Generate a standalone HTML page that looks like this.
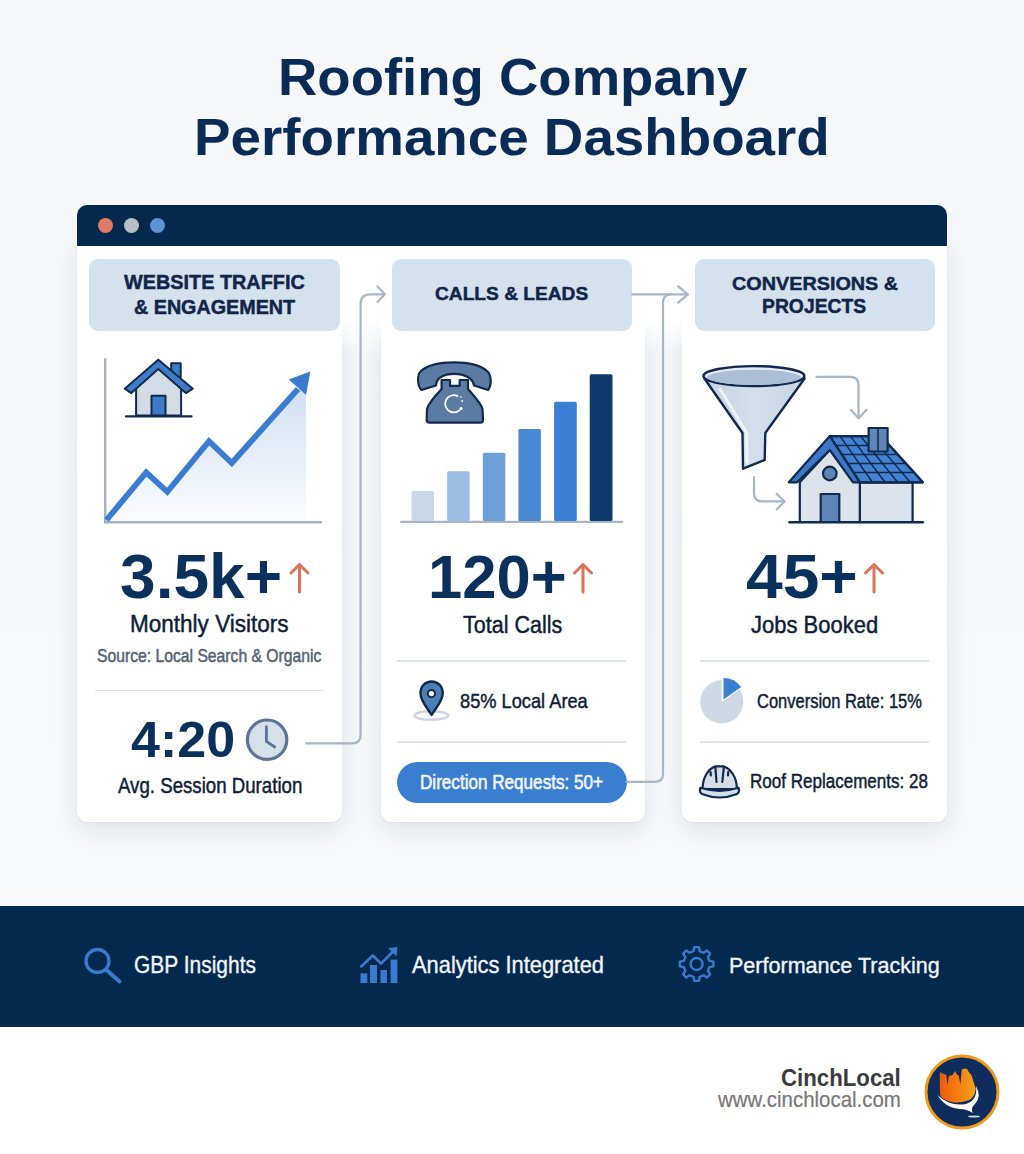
<!DOCTYPE html>
<html><head><meta charset="utf-8">
<style>
*{margin:0;padding:0;box-sizing:border-box}
html,body{width:1024px;height:1154px;overflow:hidden}
body{position:relative;background:#f5f7fa;font-family:"Liberation Sans",sans-serif}
.abs{position:absolute}
.t{position:absolute;white-space:nowrap;transform-origin:0 0}
.card{position:absolute;background:#fff;border-radius:0 0 11px 11px;box-shadow:0 8px 26px rgba(30,50,90,0.10),0 1px 3px rgba(30,50,90,0.05)}
.pill{position:absolute;background:#d4e1ee;border-radius:9px}
.div{position:absolute;height:1.5px;background:#dde3ea}
</style></head>
<body>
<!-- page bg gradient -->
<div class="abs" style="left:0;top:0;width:1024px;height:906px;background:linear-gradient(#f5f7f9,#f6f8fa)"></div>
<!-- band -->
<div class="abs" style="left:0;top:906px;width:1024px;height:121px;background:#04294e"></div>
<div class="abs" style="left:0;top:1027px;width:1024px;height:127px;background:#ffffff"></div>

<!-- cards -->
<div class="card" style="left:77px;top:240px;width:265px;height:582px"></div>
<div class="card" style="left:380.5px;top:240px;width:264px;height:582px"></div>
<div class="card" style="left:682px;top:240px;width:264.8px;height:582px"></div>
<!-- white header strip -->
<div class="abs" style="left:77px;top:240px;width:869.8px;height:80px;background:#fff"></div>
<div class="abs" style="left:342px;top:320px;width:38.5px;height:34px;background:linear-gradient(#fff,rgba(255,255,255,0.5) 50%,rgba(255,255,255,0))"></div>
<div class="abs" style="left:644.5px;top:320px;width:37.5px;height:34px;background:linear-gradient(#fff,rgba(255,255,255,0.5) 50%,rgba(255,255,255,0))"></div>
<!-- nav bar -->
<div class="abs" style="left:77px;top:205px;width:869.8px;height:41px;background:#04294e;border-radius:10px 10px 0 0"></div>
<div class="abs" style="left:98px;top:218px;width:15px;height:15px;border-radius:50%;background:#e07a62"></div>
<div class="abs" style="left:123.5px;top:218px;width:15px;height:15px;border-radius:50%;background:#b9bec6"></div>
<div class="abs" style="left:149.5px;top:218px;width:15px;height:15px;border-radius:50%;background:#5b93d4"></div>

<!-- pills -->
<div class="pill" style="left:89px;top:259px;width:251px;height:72px"></div>
<div class="pill" style="left:392px;top:259px;width:240px;height:72px"></div>
<div class="pill" style="left:695px;top:259px;width:240px;height:72px"></div>

<!-- dividers -->
<div class="div" style="left:95px;top:689.5px;width:229px"></div>
<div class="div" style="left:397px;top:660px;width:229px"></div>
<div class="div" style="left:397px;top:741px;width:229px"></div>
<div class="div" style="left:700px;top:660px;width:229px"></div>
<div class="div" style="left:700px;top:741px;width:229px"></div>

<!-- button -->
<div class="abs" style="left:397px;top:761.5px;width:229.5px;height:41.5px;border-radius:21px;background:#3a7fcf"></div>

<svg class="abs" style="left:0;top:0" width="1024" height="1154" viewBox="0 0 1024 1154">
<defs>
 <linearGradient id="area" x1="0" y1="0" x2="0" y2="1"><stop offset="0" stop-color="#d0def0"/><stop offset="1" stop-color="#fbfcfe"/></linearGradient>
 <linearGradient id="logoG" x1="0" y1="0" x2="1" y2="0"><stop offset="0" stop-color="#f05a0a"/><stop offset="1" stop-color="#f7a21b"/></linearGradient>
</defs>
<g fill="none" stroke="#a8b5c5" stroke-width="2.2" stroke-linecap="round" stroke-linejoin="round">
 <!-- connector 1: from clock to card2 header -->
 <path d="M306 743.4 H352 Q360.6 743.4 360.6 735 V304 Q360.6 294.3 370 294.3 H384"/>
 <path d="M377.5 286.5 L385 294.3 L377.5 302"/>
 <!-- connector 2 -->
 <path d="M632 294.3 H687"/>
 <path d="M626.5 781.8 H655 Q663 781.8 663 774 V303 Q663 294.3 671 294.3"/>
 <path d="M678.2 286.3 L687.9 294.3 L678.2 302.6"/>
 <!-- card3 arrows -->
 <path d="M816.5 376.9 H850 Q858.5 376.9 858.5 385 V417"/>
 <path d="M851 409.8 L858.5 418.4 L866.5 409.8"/>
 <path d="M754 477 V493 Q754 501.4 762 501.4 H783.5"/>
 <path d="M776.7 494 L784.5 501.4 L776.7 509.5"/>
</g>

<!-- card1 chart -->
<path d="M106 520.5 L146.2 472.4 L167.3 491.9 L209 441.2 L231.8 463 L300.9 385.7 L306 381 L306 521 L106 521 Z" fill="url(#area)"/>
<g stroke="#a3b1c2" stroke-width="2.4" fill="none">
 <path d="M105.2 358.3 V522.3 H322"/>
</g>
<polyline points="106.5,520 146.2,472.4 167.3,491.9 209,441.2 231.8,463 298,389" fill="none" stroke="#3a7dd0" stroke-width="5.8" stroke-linejoin="miter"/>
<polygon points="288.7,379.4 310.3,371.6 306.1,395.1" fill="#3a7bd0"/>

<!-- card1 house -->
<g stroke="#0f2a4e" stroke-width="2" stroke-linejoin="round">
 <rect x="171.2" y="363.2" width="9.5" height="14" fill="#3f7cc8"/>
 <polygon points="136.1,415.5 136.1,388 158.3,367 181.1,388 181.1,415.5" fill="#d3dbe5"/>
 <polygon points="124.7,388.7 158.3,359.8 192.8,388.7 185.8,393.1 158.3,368.9 131.3,393.1" fill="#3f7cc8"/>
 <rect x="151.5" y="395.7" width="14" height="19.8" fill="#3f7cc8"/>
</g>
<path d="M126 416.4 H191.5" stroke="#0f2a4e" stroke-width="2.2" stroke-linecap="round"/>

<!-- card1 arrow -->
<g stroke="#d9755c" stroke-width="3" fill="none" stroke-linecap="round" stroke-linejoin="round">
 <path d="M299.5 592 V565 M291 573 L299.5 564.5 L308 573"/>
 <path d="M583 592 V565 M574.5 573 L583 564.5 L591.5 573"/>
 <path d="M874 592 V565 M865.5 573 L874 564.5 L882.5 573"/>
</g>
<!-- clock -->
<circle cx="267.1" cy="739.7" r="19.7" fill="#d6e0eb" stroke="#5a7595" stroke-width="3.2"/>
<path d="M266.4 726.7 V741.4 L274.7 747" fill="none" stroke="#5a7595" stroke-width="2.8" stroke-linecap="round" stroke-linejoin="round"/>

<!-- card2 bars -->
<path d="M400.3 521.9 H623.2" stroke="#aab5c3" stroke-width="2.4"/>
<g>
 <rect x="411.5" y="490.9" width="22.5" height="30" rx="1.5" fill="#c8d7ea"/>
 <rect x="447.1" y="471.3" width="22.5" height="49.6" rx="1.5" fill="#9ebde5"/>
 <rect x="482.8" y="452.8" width="22.5" height="68.1" rx="1.5" fill="#6c9ed8"/>
 <rect x="518.4" y="429.1" width="22.5" height="91.8" rx="1.5" fill="#4a88d3"/>
 <rect x="554.1" y="401.8" width="22.7" height="119.1" rx="1.5" fill="#3a80d2"/>
 <rect x="589.7" y="374.2" width="22.8" height="146.7" rx="1.5" fill="#0f3a6e"/>
</g>
<!-- phone -->
<g fill="#5b7ba2" stroke="#0f2a4e" stroke-width="2.2" stroke-linejoin="round">
 <path d="M421.5 390 C417.5 386 416.5 375 421 371 C430 363 445 362.3 454 362.3 C463 362.3 478 363 487 371 C492 375 491.5 386 488 390 L474 385.5 C473 378.5 465 373.8 454 373.8 C443 373.8 436 378.5 436 385.5 Z"/>
 <path d="M441.6 380 L450 380 L450 385.8 L459.7 385.8 L459.7 380 L468 380 L468 389 C474 396 481 403 482.5 409 L483 420 Q483 422.7 480 422.7 L429.5 422.7 Q426.7 422.7 426.7 420 L427 409 C428.5 403 435 396 441.6 389 Z"/>
</g>
<circle cx="453.8" cy="403.8" r="8.6" fill="none" stroke="#fff" stroke-width="1.8" stroke-dasharray="38 16" transform="rotate(45 453.8 403.8)"/>
<circle cx="461" cy="408.5" r="1.6" fill="#fff"/><circle cx="462.3" cy="401" r="0.9" fill="#fff"/><circle cx="461" cy="397" r="0.8" fill="#fff"/>
<!-- pin -->
<ellipse cx="431.4" cy="715.5" rx="16.8" ry="4.3" fill="none" stroke="#cdd5df" stroke-width="2.6"/>
<path d="M431.6 715 C428 709 420.5 701 420.5 693.5 C420.5 686 425.5 681.5 431.6 681.5 C437.7 681.5 442.7 686 442.7 693.5 C442.7 701 435 709 431.6 715 Z" fill="#4f7db5" stroke="#0f2a4e" stroke-width="2.4" stroke-linejoin="round"/>
<circle cx="431.4" cy="693.6" r="3.6" fill="#fff" stroke="#0f2a4e" stroke-width="2"/>

<!-- card3 funnel -->
<linearGradient id="fung" x1="0" y1="0" x2="1" y2="0"><stop offset="0" stop-color="#c3d2e4"/><stop offset="0.5" stop-color="#d3dfec"/><stop offset="1" stop-color="#c6d4e6"/></linearGradient>
<g stroke="#0f2a4e" stroke-width="2.4" stroke-linejoin="round">
 <path d="M704.4 378.5 L742.5 433 L743 468.7 L764.7 460 L765.3 433 L804.6 378.5 Z" fill="url(#fung)"/>
 <ellipse cx="753.9" cy="376.1" rx="50.5" ry="10" fill="#e3ebf4"/>
</g>
<ellipse cx="753.9" cy="377.3" rx="47" ry="7.6" fill="#aabed6"/>
<path d="M719.5 388 L746.6 433 L747.2 463.5" fill="none" stroke="#f2f6fb" stroke-width="3" opacity="0.9"/>
<!-- card3 house -->
<clipPath id="roofclip"><polygon points="829.8,436.1 881,436.1 922.8,482.3 859.8,482.3"/></clipPath>
<g stroke="#0f2a4e" stroke-width="2.2" stroke-linejoin="round">
 <rect x="859.8" y="482.3" width="52.8" height="39.7" fill="#dde3ea"/>
 <polygon points="829.8,436.1 881,436.1 922.8,482.3 859.8,482.3" fill="#4382d2"/>
</g>
<g clip-path="url(#roofclip)" stroke="#0f2a4e" stroke-width="1.5" fill="none">
 <path d="M800 445.5 H930 M800 454.5 H930 M800 463.5 H930 M800 472.5 H930"/>
 <path d="M840.0 436.1 L872.4 482.3 M850.3 436.1 L885.0 482.3 M860.5 436.1 L897.6 482.3 M870.8 436.1 L910.2 482.3"/>
</g>
<g stroke="#0f2a4e" stroke-width="2.2" stroke-linejoin="round">
 <polygon points="829.8,436.1 881,436.1 922.8,482.3 859.8,482.3" fill="none"/>
 <rect x="868.6" y="428" width="19" height="23.5" fill="#5f86b8"/>
 <path d="M878 428 V451" stroke-width="1.5"/>
 <polygon points="799.8,522 799.8,482.3 829.8,450 859.8,482.3 859.8,522" fill="#dde3ea"/>
 <polygon points="788.8,482.3 829.8,436.1 859.8,482.3 853,482.3 829.8,450 797,482.3" fill="#3d78c8"/>
 <circle cx="829.8" cy="473.5" r="6.8" fill="#5f86b8"/>
 <rect x="820.7" y="494" width="18.6" height="28" fill="#5f86b8"/>
</g>
<path d="M789.5 522.2 H922.8" stroke="#0f2a4e" stroke-width="2.4" stroke-linecap="round"/>

<!-- pie -->
<path d="M721.7 701.9 L739.4 689.5 A21.6 21.6 0 1 1 721.7 680.3 Z" fill="#cdd8e5"/>
<path d="M723.5 699.5 L723.5 677.9 A21.6 21.6 0 0 1 741.2 687.1 Z" fill="#3a7fd0"/>
<!-- hard hat -->
<g stroke="#0f2a4e" stroke-width="2.2" stroke-linejoin="round" stroke-linecap="round">
 <path d="M702.6 789 C702.6 777 708.5 768.5 715.5 766.4 L723.5 766.4 C730.5 768.5 736.9 777 736.9 789 Z" fill="#d5dde8"/>
 <path d="M700.3 787.8 Q719.5 793.8 738.6 787.8 Q740 792 737 794 Q719.5 801 702 794 Q699 792 700.3 787.8 Z" fill="#d5dde8"/>
 <path d="M715.4 767.6 L716.5 782 M723.8 767.6 L722.3 782 M710.6 772 L710.8 775.5 M728.2 772 L728 775.5" fill="none"/>
</g>
<!-- band icons -->
<g fill="none" stroke="#3a7bd0" stroke-width="3.3" stroke-linecap="round">
 <circle cx="97.5" cy="961" r="11.5"/>
 <path d="M106 969.5 L119.5 981.5" stroke-width="4"/>
</g>
<g fill="#3a7bd0">
 <rect x="360.5" y="973.3" width="6.8" height="9.7"/>
 <rect x="370" y="965" width="7" height="18"/>
 <rect x="380.5" y="970" width="6.5" height="13"/>
 <rect x="390.6" y="959.6" width="6.8" height="23.4"/>
</g>
<path d="M361.3 966.5 L372.8 955.5 L381 963.7 L394 950.5" fill="none" stroke="#3a7bd0" stroke-width="2.6" stroke-linecap="round" stroke-linejoin="round"/>
<path d="M388 948 L397.5 947 L396.5 956.5 Z" fill="#3a7bd0"/>
<!-- gear -->
<g transform="translate(696.6 964)" fill="none" stroke="#3a7bd0" stroke-width="2.4" stroke-linejoin="round">
 <path d="M12.84 -3.08 L16.84 -2.34 L16.84 2.34 L12.84 3.08 L11.25 6.90 L13.56 10.25 L10.25 13.56 L6.90 11.25 L3.08 12.84 L2.34 16.84 L-2.34 16.84 L-3.08 12.84 L-6.90 11.25 L-10.25 13.56 L-13.56 10.25 L-11.25 6.90 L-12.84 3.08 L-16.84 2.34 L-16.84 -2.34 L-12.84 -3.08 L-11.25 -6.90 L-13.56 -10.25 L-10.25 -13.56 L-6.90 -11.25 L-3.08 -12.84 L-2.34 -16.84 L2.34 -16.84 L3.08 -12.84 L6.90 -11.25 L10.25 -13.56 L13.56 -10.25 L11.25 -6.90 Z"/>
 <circle r="6"/>
</g>

<!-- logo -->
<circle cx="962" cy="1092" r="36" fill="#0e2c5c" stroke="#f29a1c" stroke-width="3"/>
<path d="M940 1093.3 L939.7 1075.1 L940.6 1072.1 L942.4 1073.6 L946.3 1074.8 L947.6 1085 L948.8 1076 L952.5 1075 L955.1 1070.9 L956.9 1074.5 L958.7 1075.5 L960.4 1084.5 L961.2 1075.5 L961.8 1069.7 L964.2 1068.5 L967.2 1069 L968.4 1071.5 L971.4 1075.1 L975.7 1088.4 Q975 1098 967.8 1100.5 Q960 1103 954.5 1102.4 Q946 1101 941.2 1096.9 Q940 1095.5 940 1093.3 Z" fill="url(#logoG)"/>
<path d="M937.5 1095 Q950 1107 966 1104 Q978 1100 976 1086 Q982 1097 975 1104 Q970 1108 973 1113 Q966 1109 960 1109 Q945 1108 937.5 1095 Z" fill="#ffffff"/>
<ellipse cx="974" cy="1116.5" rx="6" ry="1" fill="#cfd8e6"/>
</svg>

<div id="t1" class="t" style="left:278.39px;top:51.79px;font-size:51.02px;line-height:51.02px;font-weight:700;color:#092c56;transform:scaleX(1.0684);">Roofing Company</div>
<div id="t2" class="t" style="left:194.34px;top:111.96px;font-size:51.02px;line-height:51.02px;font-weight:700;color:#092c56;transform:scaleX(1.0730);">Performance Dashboard</div>
<div id="h1" class="t" style="left:123.60px;top:273.01px;font-size:19.33px;line-height:19.33px;font-weight:700;color:#10254a;transform:scaleX(1.0267);-webkit-text-stroke:0.45px #10254a;">WEBSITE TRAFFIC</div>
<div id="h2" class="t" style="left:133.77px;top:297.84px;font-size:19.33px;line-height:19.33px;font-weight:700;color:#10254a;transform:scaleX(1.0205);-webkit-text-stroke:0.45px #10254a;">&amp; ENGAGEMENT</div>
<div id="h3" class="t" style="left:434.79px;top:284.10px;font-size:19.04px;line-height:19.04px;font-weight:700;color:#10254a;transform:scaleX(1.0060);-webkit-text-stroke:0.45px #10254a;">CALLS &amp; LEADS</div>
<div id="h4" class="t" style="left:732.40px;top:273.53px;font-size:19.19px;line-height:19.19px;font-weight:700;color:#10254a;transform:scaleX(1.0317);-webkit-text-stroke:0.45px #10254a;">CONVERSIONS &amp;</div>
<div id="h5" class="t" style="left:762.40px;top:297.10px;font-size:19.33px;line-height:19.33px;font-weight:700;color:#10254a;transform:scaleX(1.0001);-webkit-text-stroke:0.45px #10254a;">PROJECTS</div>
<div id="n1" class="t" style="left:119.78px;top:545.45px;font-size:63.08px;line-height:63.08px;font-weight:700;color:#0a305c;transform:scaleX(1.0160);">3.5k+</div>
<div id="n2" class="t" style="left:427.62px;top:545.81px;font-size:61.92px;line-height:61.92px;font-weight:700;color:#0a305c;transform:scaleX(0.9941);">120+</div>
<div id="n3" class="t" style="left:745.78px;top:545.88px;font-size:62.36px;line-height:62.36px;font-weight:700;color:#0a305c;transform:scaleX(1.0573);">45+</div>
<div id="n4" class="t" style="left:130.57px;top:715.08px;font-size:49.27px;line-height:49.27px;font-weight:700;color:#0a305c;transform:scaleX(1.0552);">4:20</div>
<div id="l1" class="t" style="left:130.15px;top:612.33px;font-size:24.42px;line-height:24.42px;font-weight:400;color:#0e1d36;transform:scaleX(0.9231);-webkit-text-stroke:0.45px #0e1d36;">Monthly Visitors</div>
<div id="l2" class="t" style="left:462.83px;top:613.09px;font-size:24.42px;line-height:24.42px;font-weight:400;color:#0e1d36;transform:scaleX(0.8813);-webkit-text-stroke:0.45px #0e1d36;">Total Calls</div>
<div id="l3" class="t" style="left:750.61px;top:612.70px;font-size:24.13px;line-height:24.13px;font-weight:400;color:#0e1d36;transform:scaleX(0.9116);-webkit-text-stroke:0.45px #0e1d36;">Jobs Booked</div>
<div id="l4" class="t" style="left:97.22px;top:647.17px;font-size:18.46px;line-height:18.46px;font-weight:400;color:#556272;transform:scaleX(0.8517);-webkit-text-stroke:0.5px #556272;">Source: Local Search &amp; Organic</div>
<div id="l5" class="t" style="left:117.55px;top:774.59px;font-size:21.22px;line-height:21.22px;font-weight:400;color:#0e1d36;transform:scaleX(0.8794);-webkit-text-stroke:0.45px #0e1d36;">Avg. Session Duration</div>
<div id="l6" class="t" style="left:460.28px;top:691.34px;font-size:20.64px;line-height:20.64px;font-weight:400;color:#0e1d36;transform:scaleX(0.8841);-webkit-text-stroke:0.45px #0e1d36;">85% Local Area</div>
<div id="l7" class="t" style="left:420.00px;top:772.15px;font-size:20.20px;line-height:20.20px;font-weight:400;color:#eef5fc;transform:scaleX(0.8472);-webkit-text-stroke:0.6px #eef5fc;">Direction Requests: 50+</div>
<div id="l8" class="t" style="left:757.15px;top:692.19px;font-size:19.62px;line-height:19.62px;font-weight:400;color:#0e1d36;transform:scaleX(0.8406);-webkit-text-stroke:0.45px #0e1d36;">Conversion Rate: 15%</div>
<div id="l9" class="t" style="left:750.21px;top:772.32px;font-size:19.77px;line-height:19.77px;font-weight:400;color:#0e1d36;transform:scaleX(0.8615);-webkit-text-stroke:0.45px #0e1d36;">Roof Replacements: 28</div>
<div id="b1" class="t" style="left:133.88px;top:953.94px;font-size:23.26px;line-height:23.26px;font-weight:400;color:#f2f5f9;transform:scaleX(0.9015);-webkit-text-stroke:0.35px #f2f5f9;">GBP Insights</div>
<div id="b2" class="t" style="left:412.21px;top:953.55px;font-size:23.40px;line-height:23.40px;font-weight:400;color:#f2f5f9;transform:scaleX(0.9343);-webkit-text-stroke:0.35px #f2f5f9;">Analytics Integrated</div>
<div id="b3" class="t" style="left:729.45px;top:953.64px;font-size:22.82px;line-height:22.82px;font-weight:400;color:#f2f5f9;transform:scaleX(0.9443);-webkit-text-stroke:0.35px #f2f5f9;">Performance Tracking</div>
<div id="f1" class="t" style="left:781.25px;top:1066.22px;font-size:23.84px;line-height:23.84px;font-weight:700;color:#3b3b3b;transform:scaleX(0.9326);">CinchLocal</div>
<div id="f2" class="t" style="left:718.14px;top:1089.07px;font-size:22.00px;line-height:22.00px;font-weight:400;color:#777777;transform:scaleX(0.9290);-webkit-text-stroke:0.2px #777;">www.cinchlocal.com</div>
</body></html>
